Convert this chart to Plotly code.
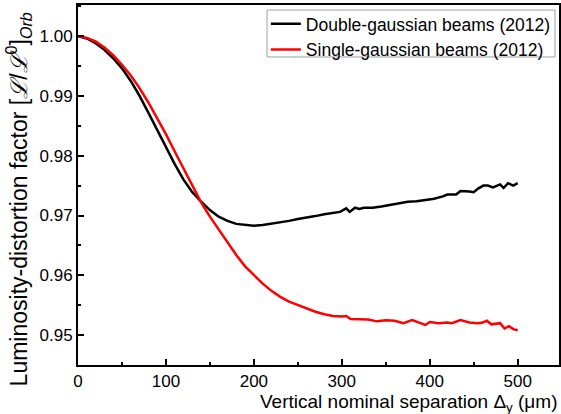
import plotly.graph_objects as go

# Double-gaussian beams (2012) - black
x_double = [0, 10, 20, 30, 40, 50, 60, 70, 80, 90, 100, 110, 120, 130, 140, 150, 160, 170, 180, 190,
            200, 210, 220, 230, 240, 250, 260, 270, 280, 290, 298, 305, 309, 315, 320, 325, 335, 345,
            355, 365, 375, 385, 395, 405, 415, 420, 430, 435, 445, 450, 455, 461, 466, 472, 480, 484,
            489, 495, 500]
y_double = [1.0000, 0.9996, 0.9988, 0.9977, 0.9963, 0.9946, 0.9925, 0.9900, 0.9872, 0.9843, 0.9814,
            0.9786, 0.9760, 0.9739, 0.9723, 0.9709, 0.9698, 0.9691, 0.9686, 0.9684, 0.9683, 0.9684,
            0.9686, 0.9689, 0.9691, 0.9694, 0.9696, 0.9699, 0.9702, 0.9704, 0.9706, 0.9712, 0.9706,
            0.9713, 0.9711, 0.9713, 0.9713, 0.9715, 0.9718, 0.9721, 0.9723, 0.9724, 0.9726, 0.9728,
            0.9732, 0.9735, 0.9735, 0.9741, 0.9740, 0.9739, 0.9745, 0.9750, 0.9750, 0.9747, 0.9752,
            0.9746, 0.9754, 0.9750, 0.9754]

# Single-gaussian beams (2012) - red
x_single = [0, 10, 20, 30, 40, 50, 60, 70, 80, 90, 100, 110, 120, 130, 140, 150, 160, 170, 180, 190,
            200, 210, 220, 230, 240, 250, 260, 270, 280, 290, 300, 305, 310, 320, 330, 340, 350, 360,
            370, 380, 390, 395, 400, 410, 420, 425, 435, 445, 455, 460, 465, 470, 480, 485, 490, 495,
            500]
y_single = [1.0000, 0.9997, 0.9991, 0.9981, 0.9968, 0.9952, 0.9934, 0.9913, 0.9889, 0.9863, 0.9836,
            0.9807, 0.9778, 0.9750, 0.9722, 0.9698, 0.9676, 0.9655, 0.9634, 0.9615, 0.9600, 0.9586,
            0.9574, 0.9564, 0.9556, 0.9550, 0.9544, 0.9539, 0.9535, 0.9532, 0.9531, 0.9532, 0.9527,
            0.9527, 0.9526, 0.9523, 0.9525, 0.9524, 0.9520, 0.9525, 0.9519, 0.9517, 0.9522, 0.9520,
            0.9521, 0.9520, 0.9525, 0.9521, 0.9520, 0.9521, 0.9524, 0.9518, 0.9520, 0.9511, 0.9515,
            0.9510, 0.9508]

x_ticks = [0, 100, 200, 300, 400, 500]
y_ticks = [0.95, 0.96, 0.97, 0.98, 0.99, 1.00]

FONT = "Arial, Liberation Sans, sans-serif"

fig = go.Figure()
fig.add_trace(go.Scatter(x=x_double, y=y_double, mode="lines",
                         line=dict(color="black", width=2.5),
                         name="Double-gaussian beams (2012)"))
fig.add_trace(go.Scatter(x=x_single, y=y_single, mode="lines",
                         line=dict(color="#ff0000", width=2.5),
                         name="Single-gaussian beams (2012)"))

fig.update_layout(
    width=561, height=414,
    margin=dict(l=78, r=2, t=5, b=49, autoexpand=False),
    paper_bgcolor="white", plot_bgcolor="white",
    font=dict(family=FONT, size=17, color="black"),
    showlegend=True,
    legend=dict(x=0.9935, y=0.9973, xanchor="right", yanchor="top",
                bgcolor="rgba(0,0,0,0)", borderwidth=0,
                font=dict(family=FONT, size=17.5, color="black"),
                tracegroupgap=0, itemwidth=30),
)

# legend frame
fig.add_shape(type="rect", xref="paper", yref="paper",
              x0=0.393, x1=0.9917, y0=0.8556, y1=0.986,
              line=dict(color="#a0a0a0", width=1), fillcolor="rgba(0,0,0,0)", layer="above")

fig.update_xaxes(
    range=[0, 547], tickvals=x_ticks, ticktext=[str(v) for v in x_ticks],
    showgrid=False, zeroline=False, automargin=False,
    showline=True, linecolor="black", linewidth=2, mirror=True,
    ticks="inside", ticklen=6, tickwidth=1.5, tickcolor="black",
    minor=dict(ticks="inside", ticklen=3, tickwidth=1.5, dtick=50, tick0=0, tickcolor="black", showgrid=False),
    tickfont=dict(family=FONT, size=17, color="black"),
)
fig.update_yaxes(
    range=[0.945, 1.0052], tickvals=y_ticks, ticktext=["%.2f" % v for v in y_ticks],
    showgrid=False, zeroline=False, automargin=False,
    showline=True, linecolor="black", linewidth=2, mirror=True,
    ticks="inside", ticklen=6, tickwidth=1.5, tickcolor="black",
    minor=dict(ticks="inside", ticklen=3, tickwidth=1.5, dtick=0.005, tick0=0.95, tickcolor="black", showgrid=False),
    tickfont=dict(family=FONT, size=17, color="black"),
)

fig.add_annotation(
    text="Vertical nominal separation Δ<sub>y</sub> (μm)",
    xref="paper", yref="paper", x=1.0, y=-0.105, xanchor="right", yanchor="middle",
    showarrow=False, font=dict(family=FONT, size=19, color="black"),
)
fig.add_annotation(
    text="Luminosity-distortion factor [<i>ℒ</i>/<i>ℒ</i><sup>0</sup>]<sub><i>Orb</i></sub>",
    xref="paper", yref="paper", x=-0.124, y=0.461, xanchor="center", yanchor="middle",
    textangle=-90, showarrow=False, font=dict(family=FONT, size=23, color="black"),
)

fig.write_html("out.html", config={"displayModeBar": False},
               post_script="document.body.style.margin='0px';")
